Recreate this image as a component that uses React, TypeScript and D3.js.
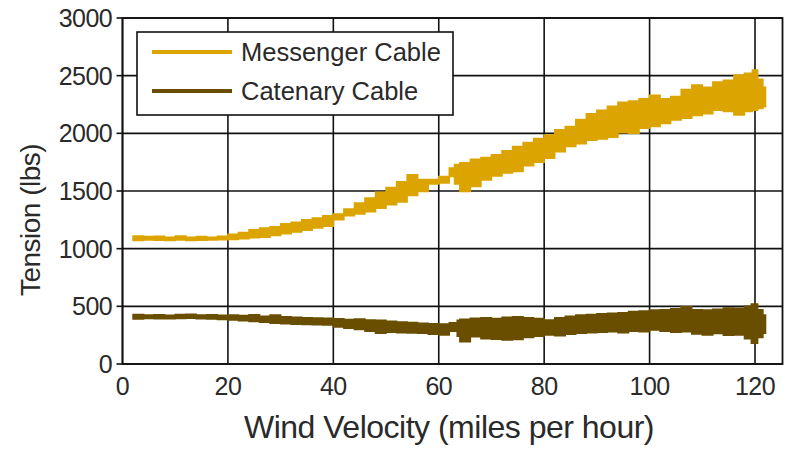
import React from "react";
import * as d3 from "d3";

// ---- data ----
const xTicks = [0, 20, 40, 60, 80, 100, 120];
const yTicks = [0, 500, 1000, 1500, 2000, 2500, 3000];

const seriesNames = ["Messenger Cable", "Catenary Cable"];
const seriesColors = ["#DBA400", "#6A4E00"];

// Messenger cable: wind velocity, band lower / upper tension
const messengerV = [2, 4, 6, 8, 10, 12, 14, 16, 18, 20, 22, 24, 26, 28, 30, 32, 34, 36, 38, 40, 42, 44, 46, 48, 50, 52, 54, 56, 58, 60, 62, 63, 64, 66, 68, 70, 72, 74, 76, 78, 80, 82, 84, 86, 88, 90, 92, 94, 96, 98, 100, 102, 104, 106, 108, 110, 112, 114, 116, 118, 119.5, 120.5, 121.5, 122];
const messengerLow = [1070, 1075, 1072, 1070, 1075, 1070, 1072, 1075, 1078, 1080, 1085, 1095, 1100, 1115, 1130, 1145, 1160, 1180, 1195, 1250, 1285, 1300, 1320, 1350, 1380, 1405, 1460, 1495, 1560, 1570, 1625, 1560, 1495, 1540, 1595, 1630, 1655, 1670, 1720, 1750, 1785, 1840, 1885, 1910, 1940, 1950, 1965, 2005, 2000, 2045, 2060, 2085, 2115, 2130, 2155, 2170, 2200, 2190, 2160, 2190, 2200, 2215, 2230, 2280];
const messengerHigh = [1110, 1105, 1108, 1100, 1110, 1100, 1105, 1100, 1108, 1125, 1140, 1165, 1180, 1190, 1215, 1230, 1250, 1265, 1285, 1300, 1345, 1395, 1440, 1490, 1530, 1580, 1640, 1600, 1600, 1625, 1700, 1730, 1745, 1775, 1790, 1815, 1850, 1885, 1920, 1955, 1985, 2030, 2060, 2120, 2170, 2200, 2235, 2270, 2280, 2300, 2330, 2300, 2320, 2380, 2420, 2400, 2445, 2460, 2505, 2520, 2550, 2470, 2400, 2330];

// Catenary cable: wind velocity, band lower / upper tension
const catenaryV = [2, 4, 6, 8, 10, 12, 14, 16, 18, 20, 22, 24, 26, 28, 30, 32, 34, 36, 38, 40, 42, 44, 46, 48, 50, 52, 54, 56, 58, 60, 62, 63.5, 64, 66, 68, 70, 72, 74, 76, 78, 80, 82, 84, 86, 88, 90, 92, 94, 96, 98, 100, 102, 104, 106, 108, 110, 112, 114, 116, 118, 119.3, 120.5, 121.5, 122];
const catenaryLow = [390, 395, 392, 393, 395, 396, 392, 390, 385, 381, 375, 368, 362, 353, 350, 345, 342, 340, 338, 320, 310, 300, 285, 266, 275, 270, 268, 266, 258, 251, 285, 240, 193, 237, 220, 215, 208, 212, 230, 240, 251, 245, 258, 266, 270, 275, 280, 270, 285, 280, 295, 285, 275, 280, 260, 251, 265, 250, 251, 220, 179, 230, 266, 300];
const catenaryHigh = [430, 425, 428, 422, 430, 431, 425, 428, 422, 425, 420, 428, 415, 425, 410, 405, 400, 398, 396, 392, 385, 390, 382, 380, 370, 365, 360, 353, 350, 347, 358, 380, 387, 396, 400, 395, 405, 410, 400, 395, 381, 400, 415, 425, 430, 435, 439, 445, 455, 460, 468, 470, 480, 497, 470, 468, 475, 485, 483, 500, 520, 470, 425, 400];

// ---- layout ----
const W = 785;
const H = 454;
const left = 122.5;
const right = 782.5;
const top = 18;
const bottom = 364;
const FONT = "'Liberation Sans', Arial, sans-serif";

export default function App() {
  const x = d3.scaleLinear().domain([0, 120]).range([left, 755]);
  const y = d3.scaleLinear().domain([0, 3000]).range([bottom, top]);

  const band = (v: number[], lo: number[], hi: number[]) =>
    d3
      .area<number>()
      .x((i) => x(v[i]))
      .y0((i) => y(lo[i]))
      .y1((i) => y(hi[i]))
      .curve(d3.curveStepAfter)(d3.range(v.length)) as string;

  const series = [
    { v: messengerV, lo: messengerLow, hi: messengerHigh },
    { v: catenaryV, lo: catenaryLow, hi: catenaryHigh },
  ];

  const gridColor = "#111";
  const textColor = "#2a2a2a";

  return (
    <svg
      width={W}
      height={H}
      style={{ position: "absolute", left: 0, top: 0, background: "#fff" }}
      fontFamily={FONT}
    >
      <rect x={0} y={0} width={W} height={H} fill="#fff" />
      {/* grid */}
      {xTicks.map((t) => (
        <line key={"gx" + t} x1={x(t)} x2={x(t)} y1={top} y2={bottom} stroke={gridColor} strokeWidth={1.6} />
      ))}
      {yTicks.map((t) => (
        <line key={"gy" + t} x1={left} x2={right} y1={y(t)} y2={y(t)} stroke={gridColor} strokeWidth={1.6} />
      ))}
      {/* y-axis ticks */}
      {yTicks.map((t) => (
        <line key={"ty" + t} x1={left - 6} x2={left} y1={y(t)} y2={y(t)} stroke={gridColor} strokeWidth={1.6} />
      ))}
      {/* series bands */}
      {series.map((s, k) => (
        <path
          key={"s" + k}
          d={band(s.v, s.lo, s.hi)}
          fill={seriesColors[k]}
          stroke={seriesColors[k]}
          strokeWidth={1.5}
          strokeLinejoin="miter"
        />
      ))}
      {/* frame */}
      <rect x={left} y={top} width={right - left} height={bottom - top} fill="none" stroke={gridColor} strokeWidth={1.8} />
      {/* tick labels */}
      {yTicks.map((t) => (
        <text key={"ly" + t} x={112} y={y(t)} dy="0.36em" textAnchor="end" fontSize={25} fill={textColor} letterSpacing={-0.6}>
          {t}
        </text>
      ))}
      {xTicks.map((t) => (
        <text key={"lx" + t} x={x(t)} y={395} textAnchor="middle" fontSize={25} fill={textColor} letterSpacing={-0.6}>
          {t}
        </text>
      ))}
      {/* axis titles */}
      <text x={449} y={438} textAnchor="middle" fontSize={32} fill={textColor} letterSpacing={-0.5}>
        Wind Velocity (miles per hour)
      </text>
      <text transform="translate(40,220) rotate(-90)" textAnchor="middle" fontSize={28} fill={textColor} letterSpacing={-0.5}>
        Tension (lbs)
      </text>
      {/* legend */}
      <rect x={137} y={32} width={316} height={83} fill="#fff" stroke={gridColor} strokeWidth={1.6} />
      {seriesNames.map((n, k) => (
        <g key={"lg" + k}>
          <line x1={152} x2={232} y1={52 + k * 39} y2={52 + k * 39} stroke={seriesColors[k]} strokeWidth={4} />
          <text x={241} y={52 + k * 39} dy="0.36em" fontSize={25.5} fill={textColor} letterSpacing={0}>
            {n}
          </text>
        </g>
      ))}
    </svg>
  );
}
